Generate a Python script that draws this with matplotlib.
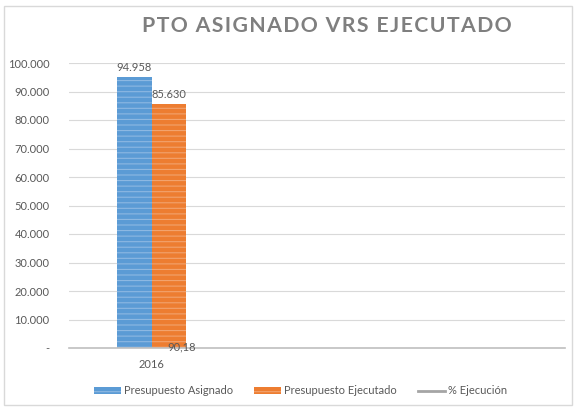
import matplotlib
matplotlib.use("Agg")
import matplotlib.pyplot as plt
from matplotlib.patches import Patch, Rectangle
from matplotlib.lines import Line2D
from matplotlib.ticker import FuncFormatter, MultipleLocator

plt.rcParams['font.family'] = ['Lato', 'DejaVu Sans']
plt.rcParams['hatch.linewidth'] = 0.8

years = ['2016', '', '']
asignado = [94958, None, None]
ejecutado = [85630, None, None]
pct_ejecucion = [90.18]

blue = '#5B9BD5'
orange = '#ED7D31'
grey_txt = '#595959'

fig = plt.figure(figsize=(5.76, 4.07), dpi=100)
ax = fig.add_axes([69 / 576, 1 - 348 / 407, 496 / 576, 285 / 407])

x = list(range(len(years)))
w = 0.21
for i, (a, e) in enumerate(zip(asignado, ejecutado)):
    if a is not None:
        ax.bar(i - w / 2, a, w, color=blue, edgecolor='#8DB8E2', hatch='---', linewidth=0)
        ax.text(i - w / 2, a + 1500, f"{a:,}".replace(',', '.'), ha='center', va='bottom',
                fontsize=8, color=grey_txt)
    if e is not None:
        ax.bar(i + w / 2, e, w, color=orange, edgecolor='#F2A36E', hatch='---', linewidth=0)
        ax.text(i + w / 2, e + 1500, f"{e:,}".replace(',', '.'), ha='center', va='bottom',
                fontsize=8, color=grey_txt)

ax.plot(x[:len(pct_ejecucion)], pct_ejecucion, color='#A5A5A5', lw=2)
for i, p in enumerate(pct_ejecucion):
    ax.text(i + 0.18, p + 300, f"{p:.2f}".replace('.', ','), ha='center', va='center',
            fontsize=8, color=grey_txt)

ax.set_xlim(-0.5, len(years) - 0.5)
ax.set_ylim(0, 100000)
ax.yaxis.set_major_locator(MultipleLocator(10000))
ax.yaxis.set_major_formatter(FuncFormatter(lambda v, _: '-' if v == 0 else f"{int(v):,}".replace(',', '.')))
ax.set_xticks(x)
ax.set_xticklabels(years)
ax.tick_params(axis='both', length=0, labelsize=8, labelcolor=grey_txt)
ax.tick_params(axis='y', pad=14)
ax.tick_params(axis='x', pad=8)
ax.grid(axis='y', color='#D9D9D9', lw=0.8)
ax.set_axisbelow(True)
for s in ['top', 'right', 'left']:
    ax.spines[s].set_visible(False)
ax.spines['bottom'].set_color('#BFBFBF')
ax.spines['bottom'].set_linewidth(1.2)

title = 'PTO ASIGNADO VRS EJECUTADO'
fig.text(327 / 576, 1 - 26.5 / 407, '\u200a'.join(title),
         ha='center', va='center', fontsize=15.3, fontweight='bold', color='#7F7F7F')

handles = [
    Patch(facecolor=blue, edgecolor='#8DB8E2', hatch='---', lw=0),
    Patch(facecolor=orange, edgecolor='#F2A36E', hatch='---', lw=0),
    Line2D([0], [0], color='#A5A5A5', lw=2),
]
labels = ['Presupuesto Asignado', 'Presupuesto Ejecutado', '% Ejecución']
fig.legend(handles, labels, loc='center', bbox_to_anchor=(0.522, 1 - 391 / 407), ncol=3,
           frameon=False, fontsize=8, labelcolor=grey_txt, handlelength=2.4,
           handleheight=0.5, columnspacing=1.9, handletextpad=0.3)

fig.patches.append(Rectangle((4 / 576, 2 / 407), 568 / 576, 399 / 407, transform=fig.transFigure,
                             fill=False, edgecolor='#D9D9D9', lw=1))

fig.savefig('out.png', dpi=100)
